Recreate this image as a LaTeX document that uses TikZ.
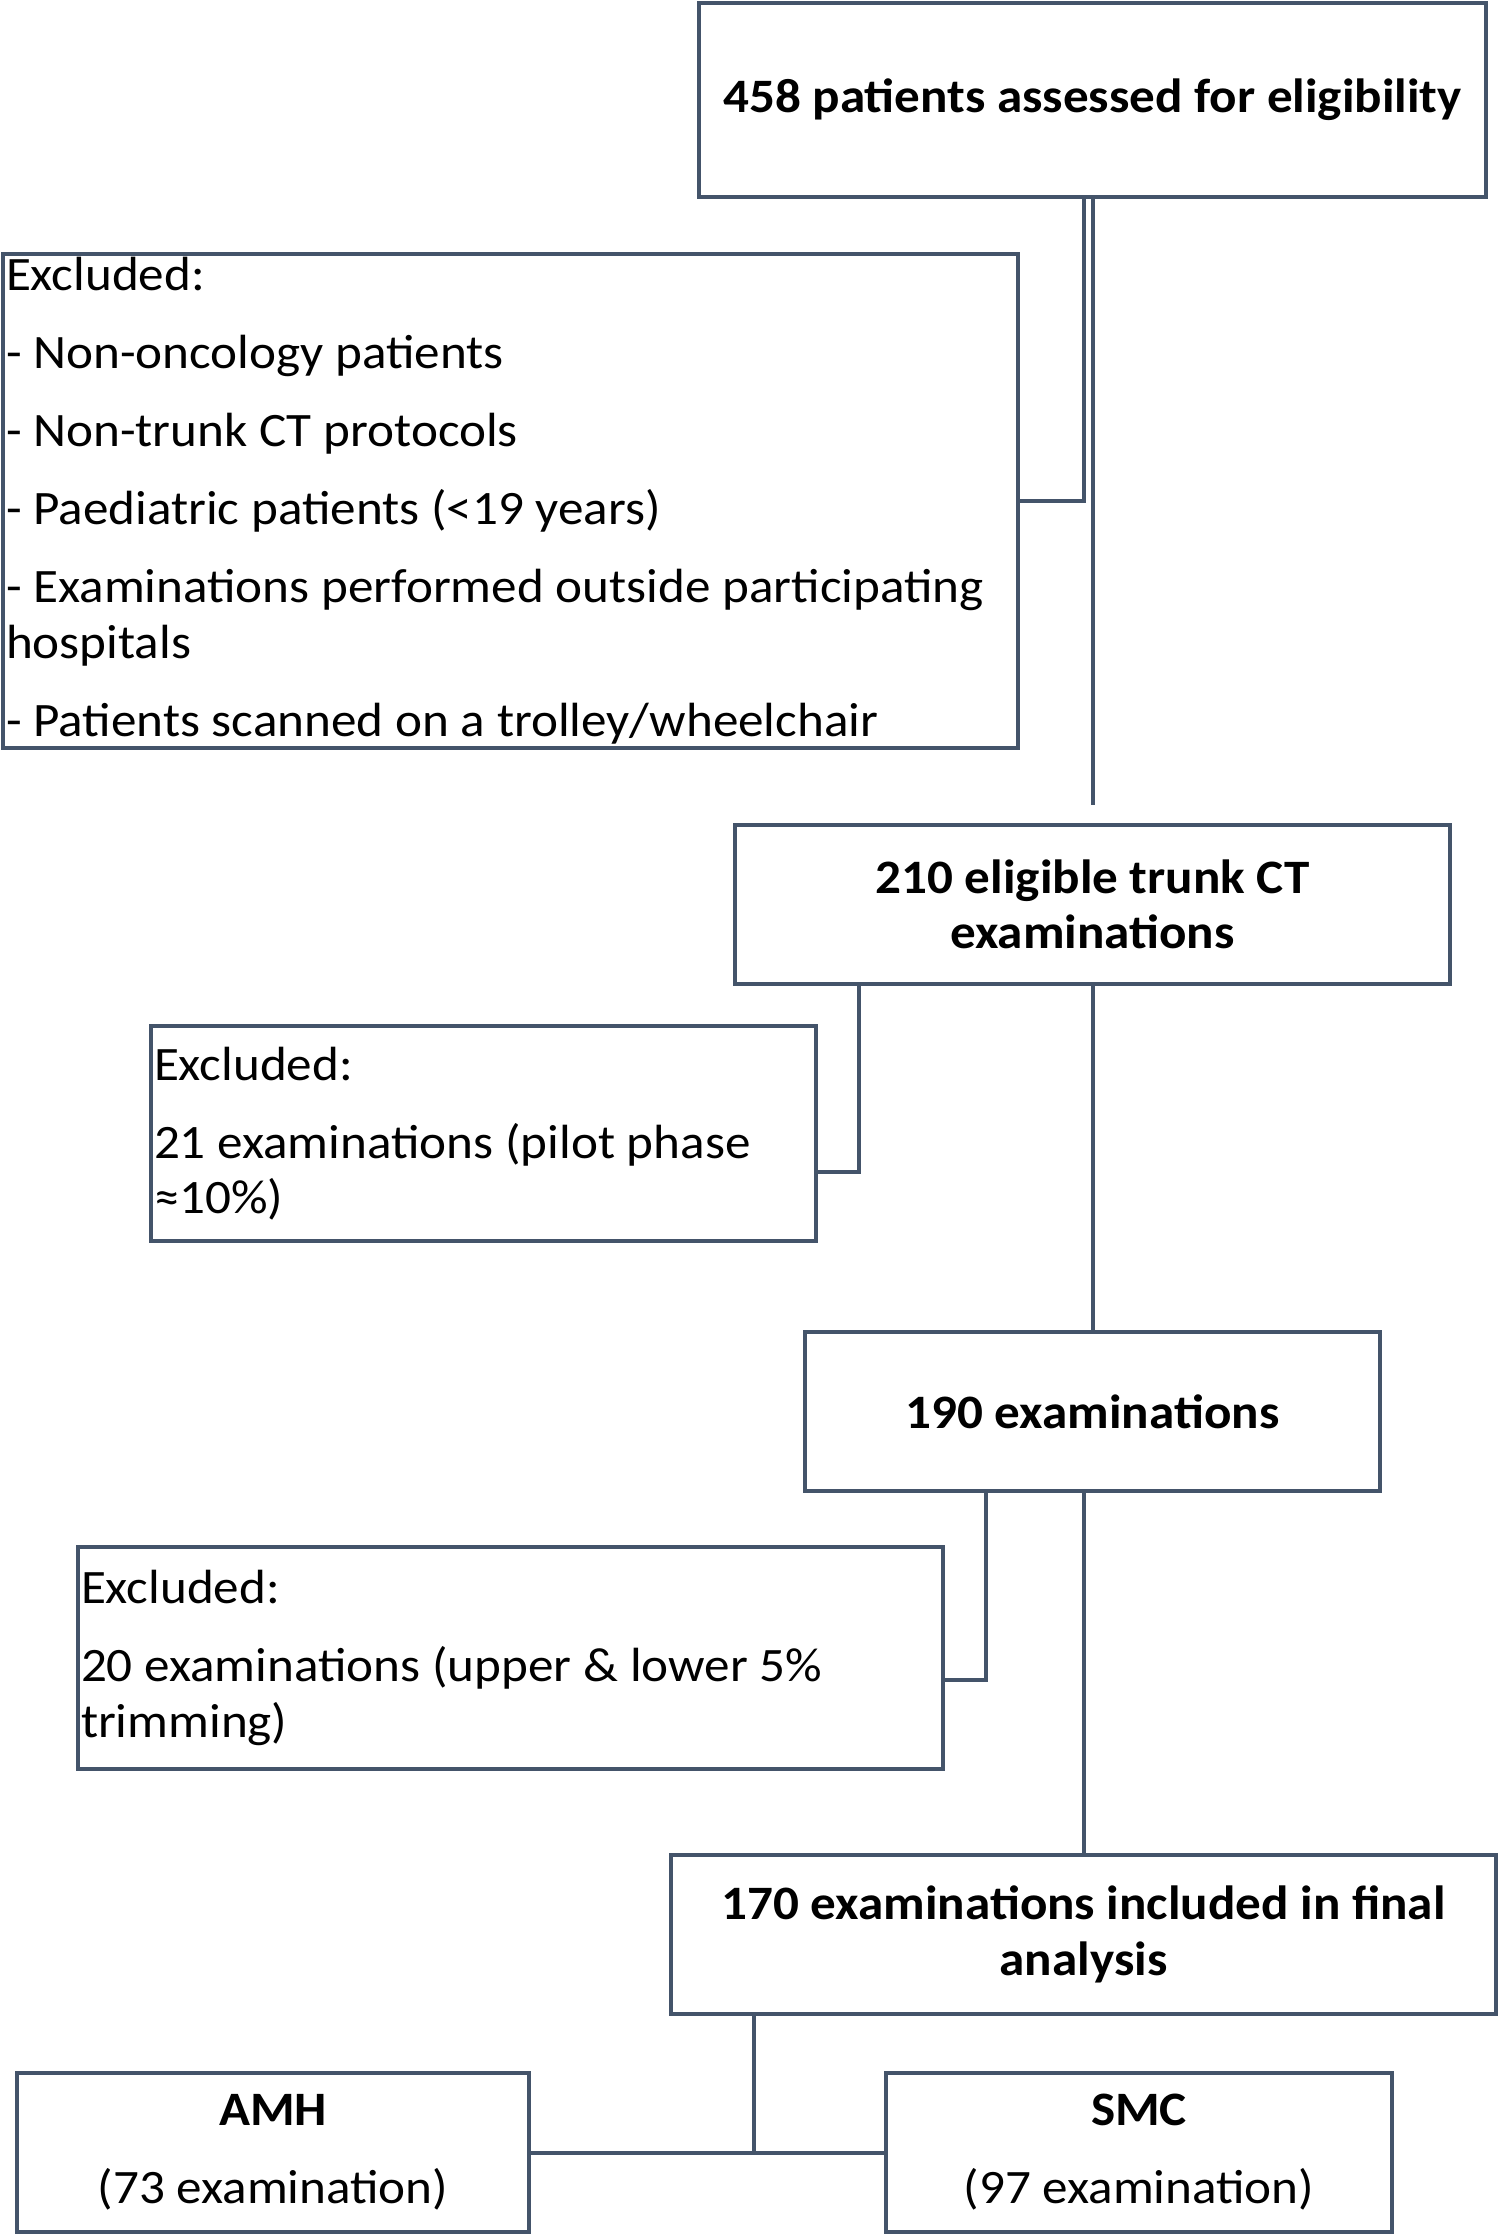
\documentclass[tikz,border=0pt]{standalone}
\usepackage{fontspec}
\setmainfont{Carlito}[FakeStretch=1.065]
\definecolor{lc}{HTML}{44546A}
\newcommand{\tightsp}{\spaceskip=0.245em\relax}
\begin{document}
\begin{tikzpicture}[x=1pt,y=-1pt,
  box/.style={draw=lc, line width=4pt, inner sep=0pt, align=center, text=black,
    font=\fontsize{48}{55.6}\selectfont},
  mainbox/.style={box, font=\fontsize{48}{55.6}\selectfont\bfseries},
  exbox/.style={box, align=left, inner xsep=3pt},
  conn/.style={draw=lc, line width=4pt}]
\useasboundingbox (0,0) rectangle (1500,2234);

\node[mainbox, minimum width=787pt, minimum height=194pt] (b1) at (1092.5,100)
  {458 patients assessed for eligibility};

\node[exbox, minimum width=1015pt, minimum height=494pt, text width=1009pt] (e1) at (510.5,501)
  {\tightsp Excluded:\\[22.4pt]
   \mbox{- Non-oncology patients}\\[22.4pt]
   \mbox{- Non-trunk CT protocols}\\[22.4pt]
   \mbox{- Paediatric patients (<19 years)}\\[22.4pt]
   \mbox{- Examinations performed outside participating}\\
   \mbox{hospitals}\\[22.4pt]
   \mbox{- Patients scanned on a trolley/wheelchair}};

\node[mainbox, minimum width=715pt, minimum height=159pt] (b2) at (1092.5,904.5)
  {210 eligible trunk CT\\examinations};

\node[exbox, minimum width=665pt, minimum height=215pt, text width=659pt] (e2) at (483.5,1133.5)
  {\tightsp Excluded:\\[22.4pt]
   \mbox{21 examinations (pilot phase}\\
   \mbox{≈10\%)}};

\node[mainbox, minimum width=575pt, minimum height=159pt] (b3) at (1092.5,1411.5)
  {190 examinations};

\node[exbox, minimum width=865pt, minimum height=222pt, text width=859pt] (e3) at (510.5,1658)
  {\tightsp Excluded:\\[22.4pt]
   \mbox{20 examinations (upper \& lower 5\%}\\
   \mbox{trimming)}};

\node[mainbox, minimum width=825pt, minimum height=159pt] (b4) at (1083.5,1934.5)
  {170 examinations included in final\\analysis};

\node[box, minimum width=512pt, minimum height=159pt] (amh) at (273,2152.5)
  {\textbf{AMH}\\[22.4pt](73 examination)};

\node[box, minimum width=506pt, minimum height=159pt] (smc) at (1139,2152.5)
  {\textbf{SMC}\\[22.4pt](97 examination)};

% connectors
\coordinate (c1) at (1092.5,805);
\draw[conn] ([xshift=-8.5pt]b1.south) |- (e1.east);
\draw[conn] (b1.south) -- (c1);

\draw[conn] (b2.south) -- (b3.north);
\draw[conn] ([xshift=-233.5pt]b2.south) |- ([yshift=-38.5pt]e2.east);

\draw[conn] ([xshift=-106.5pt]b3.south) |- ([yshift=-22pt]e3.east);
\draw[conn] (b4.north |- b3.south) -- (b4.north);

\coordinate (j0) at ([xshift=-329.5pt]b4.south);
\draw[conn] (j0) -- (j0 |- amh.east);
\draw[conn] (amh.east) -- (smc.west);
\end{tikzpicture}
\end{document}
